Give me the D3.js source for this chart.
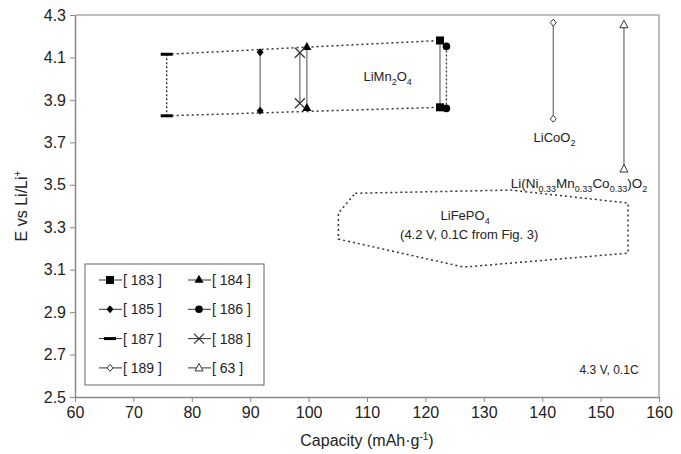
<!DOCTYPE html>
<html>
<head>
<meta charset="utf-8">
<script src="https://cdn.jsdelivr.net/npm/d3@7"></script>
<style>
  body { margin: 0; background: #fff; }
  text { font-family: "Liberation Sans", Arial, sans-serif; fill: #222; }
</style>
</head>
<body>
<script>
// reference labels and the two end voltages of each sample
var refs = ["[ 183 ]", "[ 184 ]", "[ 185 ]", "[ 186 ]", "[ 187 ]", "[ 188 ]", "[ 189 ]", "[ 63 ]"];
var capacity = [122.5, 99.7, 91.7, 123.6, 75.7, 98.5, 141.9, 154.0];
var eHigh = [4.18, 4.148, 4.124, 4.152, 4.115, 4.122, 4.264, 4.254];
var eLow = [3.865, 3.86, 3.849, 3.86, 3.825, 3.884, 3.811, 3.574];
var markers = ["square", "triangle", "diamond", "circle", "dash", "cross", "diamondOpen", "triangleOpen"];

// LiFePO4 outline
var lfpCap = [108.0, 134.6, 154.7, 154.7, 126.6, 105.1, 105.1];
var lfpE = [3.46, 3.475, 3.414, 3.178, 3.112, 3.244, 3.367];

var xTicks = [60, 70, 80, 90, 100, 110, 120, 130, 140, 150, 160];
var yTicks = [2.5, 2.7, 2.9, 3.1, 3.3, 3.5, 3.7, 3.9, 4.1, 4.3];

var width = 681, height = 454;
var margin = { top: 15, right: 22, bottom: 57, left: 75 };

var svg = d3.select("body").append("svg")
  .attr("width", width)
  .attr("height", height);

var x = d3.scaleLinear().domain([60, 160]).range([margin.left, width - margin.right]);
var y = d3.scaleLinear().domain([2.5, 4.3]).range([height - margin.bottom, margin.top]);

// plot frame (top & right lighter)
svg.append("path")
  .attr("d", "M" + x(60) + "," + y(4.3) + "H" + x(160) + "V" + y(2.5))
  .attr("fill", "none")
  .attr("stroke", "#aaa")
  .attr("stroke-width", 1.5);

var xAxis = svg.append("g")
  .attr("transform", "translate(0," + y(2.5) + ")")
  .call(d3.axisBottom(x).tickValues(xTicks).tickSize(5).tickSizeOuter(0).tickPadding(5));
var yAxis = svg.append("g")
  .attr("transform", "translate(" + x(60) + ",0)")
  .call(d3.axisLeft(y).tickValues(yTicks).tickFormat(d3.format(".1f")).tickSize(5).tickSizeOuter(0).tickPadding(4));

[xAxis, yAxis].forEach(function (g) {
  g.select(".domain").attr("stroke", "#888").attr("stroke-width", 1.5);
  g.selectAll(".tick line").attr("stroke", "#888");
  g.selectAll("text").style("font-size", "16px").style("font-family", "Liberation Sans, Arial, sans-serif").attr("fill", "#222");
});

svg.append("text")
  .attr("x", (x(60) + x(160)) / 2)
  .attr("y", 446)
  .attr("text-anchor", "middle")
  .style("font-size", "16px")
  .html('Capacity (mAh·g<tspan dy="-6" font-size="10px">-1</tspan><tspan dy="6">)</tspan>');

svg.append("text")
  .attr("transform", "translate(27," + (y(3.4)) + ") rotate(-90)")
  .attr("text-anchor", "middle")
  .style("font-size", "16px")
  .html('E vs Li/Li<tspan dy="-6" font-size="10px">+</tspan>');

// LiMn2O4 envelope
var iL = 4, iR = 0;
var env = svg.append("g").attr("fill", "none").attr("stroke", "#333").attr("stroke-width", 1.5).attr("stroke-dasharray", "2,3");
env.append("line")
  .attr("x1", x(capacity[iL])).attr("y1", y(eHigh[iL]))
  .attr("x2", x(capacity[iR])).attr("y2", y(eHigh[iR]));
env.append("line")
  .attr("x1", x(capacity[iL])).attr("y1", y(eLow[iL]))
  .attr("x2", x(capacity[iR])).attr("y2", y(eLow[iR]));

// LiFePO4 outline
var lfpPts = lfpCap.map(function (c, i) { return [x(c), y(lfpE[i])]; });
svg.append("path")
  .attr("d", d3.line()(lfpPts) + "Z")
  .attr("fill", "none")
  .attr("stroke", "#333")
  .attr("stroke-width", 1.5)
  .attr("stroke-dasharray", "2,3");

// vertical range lines
var lineStyle = {
  dash: { stroke: "#333", dash: "2,2" },
  circle: { stroke: "#333", dash: "2,2" }
};
capacity.forEach(function (c, i) {
  var st = lineStyle[markers[i]] || { stroke: "#777", dash: null };
  svg.append("line")
    .attr("x1", x(c)).attr("x2", x(c))
    .attr("y1", y(eHigh[i])).attr("y2", y(eLow[i]))
    .attr("stroke", st.stroke)
    .attr("stroke-width", 1.3)
    .attr("stroke-dasharray", st.dash);
});

function drawMarker(g, type, px, py) {
  switch (type) {
    case "square":
      g.append("rect").attr("x", px - 4).attr("y", py - 4).attr("width", 8).attr("height", 8).attr("fill", "#000");
      break;
    case "triangle":
      g.append("path").attr("d", d3.symbol(d3.symbolTriangle, 36)()).attr("transform", "translate(" + px + "," + py + ")").attr("fill", "#000");
      break;
    case "diamond":
      g.append("path").attr("d", "M0,-4L3.5,0L0,4L-3.5,0Z").attr("transform", "translate(" + px + "," + py + ")").attr("fill", "#000");
      break;
    case "circle":
      g.append("circle").attr("cx", px).attr("cy", py).attr("r", 3.8).attr("fill", "#000");
      break;
    case "dash":
      g.append("rect").attr("x", px - 6).attr("y", py - 1.5).attr("width", 12).attr("height", 3).attr("fill", "#000");
      break;
    case "cross":
      g.append("path").attr("d", "M-5,-5L5,5M-5,5L5,-5").attr("transform", "translate(" + px + "," + py + ")").attr("stroke", "#333").attr("stroke-width", 1.2).attr("fill", "none");
      break;
    case "diamondOpen":
      g.append("path").attr("d", "M0,-3.5L3,0L0,3.5L-3,0Z").attr("transform", "translate(" + px + "," + py + ")").attr("fill", "#fff").attr("stroke", "#333").attr("stroke-width", 1);
      break;
    case "triangleOpen":
      g.append("path").attr("d", "M0,-4.5L4,3L-4,3Z").attr("transform", "translate(" + px + "," + py + ")").attr("fill", "#fff").attr("stroke", "#333").attr("stroke-width", 1);
      break;
  }
}

var marks = svg.append("g");
capacity.forEach(function (c, i) {
  drawMarker(marks, markers[i], x(c), y(eHigh[i]));
  drawMarker(marks, markers[i], x(c), y(eLow[i]));
});

// annotations
function label(px, py, html, size, anchor) {
  svg.append("text")
    .attr("x", px).attr("y", py)
    .attr("text-anchor", anchor || "middle")
    .style("font-size", (size || 13) + "px")
    .html(html);
}
label(x(109.4), y(3.99), 'LiMn<tspan dy="4" font-size="9px">2</tspan><tspan dy="-4">O</tspan><tspan dy="4" font-size="9px">4</tspan>', 13, "start");
label(x(142.1), y(3.70), 'LiCoO<tspan dy="4" font-size="9px">2</tspan>');
label(x(146.3), y(3.485), 'Li(Ni<tspan dy="4" font-size="9px">0.33</tspan><tspan dy="-4">Mn</tspan><tspan dy="4" font-size="9px">0.33</tspan><tspan dy="-4">Co</tspan><tspan dy="4" font-size="9px">0.33</tspan><tspan dy="-4">)O</tspan><tspan dy="4" font-size="9px">2</tspan>', 13.5);
label(x(126.8), y(3.335), 'LiFePO<tspan dy="4" font-size="9px">4</tspan>');
label(x(127.5), y(3.245), '(4.2 V, 0.1C from Fig. 3)');
label(x(156.5), y(2.61), '4.3 V, 0.1C', 12, "end");

// legend
var legend = svg.append("g");
legend.append("rect")
  .attr("x", 85).attr("y", 264)
  .attr("width", 179).attr("height", 121)
  .attr("fill", "#fff")
  .attr("stroke", "#666")
  .attr("stroke-width", 1);

refs.forEach(function (r, i) {
  var col = i % 2, row = Math.floor(i / 2);
  var cx = col === 0 ? 110 : 199;
  var cy = 280 + row * 29.3;
  legend.append("line")
    .attr("x1", cx - 11).attr("x2", cx + 12)
    .attr("y1", cy).attr("y2", cy)
    .attr("stroke", "#333").attr("stroke-width", 1);
  drawMarker(legend, markers[i], cx, cy);
  legend.append("text")
    .attr("x", cx + 13).attr("y", cy + 5)
    .style("font-size", "14px")
    .text(r);
});
</script>
</body>
</html>
